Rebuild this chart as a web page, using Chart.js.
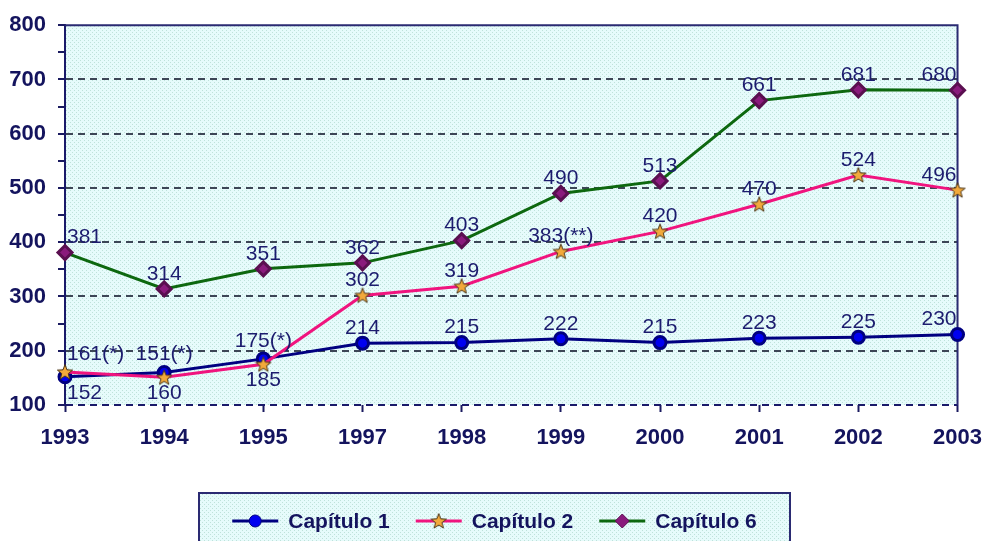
<!DOCTYPE html>
<html lang="es">
<head>
<meta charset="UTF-8">
<title>Capítulos 1993-2003</title>
<script src="https://cdn.jsdelivr.net/npm/chart.js@4"></script>
<style>
    html, body { margin: 0; padding: 0; background: #fff; }
    #wrap { width: 995px; height: 541px; }
</style>
</head>
<body>
<div id="wrap"><canvas id="chart" width="995" height="541"></canvas></div>
<script>
// data
const years = ['1993', '1994', '1995', '1997', '1998', '1999', '2000', '2001', '2002', '2003'];
const cap1 = [152, 160, 185, 214, 215, 222, 215, 223, 225, 230];
const cap2 = [161, 151, 175, 302, 319, 383, 420, 470, 524, 496];
const cap6 = [381, 314, 351, 362, 403, 490, 513, 661, 681, 680];
const cap1Labels = ['152', '160', '185', '214', '215', '222', '215', '223', '225', '230'];
const cap2Labels = ['161(*)', '151(*)', '175(*)', '302', '319', '383(**)', '420', '470', '524', '496'];
const cap6Labels = ['381', '314', '351', '362', '403', '490', '513', '661', '681', '680'];
const yMin = 100, yMax = 800;

const FONT = '"Liberation Sans", Arial, sans-serif';
const NAVY = '#14145e';

function dotPattern(ctx) {
    const c = document.createElement('canvas');
    c.width = 4; c.height = 4;
    const g = c.getContext('2d');
    g.fillStyle = '#e6fbfb';
    g.fillRect(0, 0, 4, 4);
    g.fillStyle = '#bfe2da';
    g.fillRect(0, 0, 1, 1);
    g.fillRect(2, 2, 1, 1);
    return ctx.createPattern(c, 'repeat');
}

function starImage() {
    const c = document.createElement('canvas');
    c.width = 18; c.height = 18;
    const g = c.getContext('2d');
    g.beginPath();
    for (let k = 0; k < 10; k++) {
        const r = k % 2 ? 3.4 : 8;
        const a = -Math.PI / 2 + k * Math.PI / 5;
        g.lineTo(9 + r * Math.cos(a), 9.6 + r * Math.sin(a));
    }
    g.closePath();
    g.fillStyle = '#f2a93b';
    g.fill();
    g.strokeStyle = '#4a3518';
    g.lineWidth = 1;
    g.stroke();
    return c;
}
const star = starImage();

const decor = {
    id: 'decor',
    beforeDraw(chart) {
        const { ctx, chartArea: a } = chart;
        ctx.save();
        ctx.fillStyle = dotPattern(ctx);
        ctx.fillRect(a.left, a.top, a.right - a.left, a.bottom - a.top);
        ctx.restore();
    },
    beforeDatasetsDraw(chart) {
        const { ctx, chartArea: a } = chart;
        ctx.save();
        ctx.strokeStyle = '#2a2a72';
        ctx.lineWidth = 2;
        ctx.beginPath();
        ctx.moveTo(a.left, a.top);
        ctx.lineTo(a.right, a.top);
        ctx.lineTo(a.right, a.bottom);
        ctx.stroke();
        ctx.restore();
    },
    afterDatasetsDraw(chart) {
        // value labels, nudged clear of a neighbouring marker at the same year
        const { ctx, chartArea: a } = chart;
        const metas = chart.data.datasets.map((ds, di) => chart.getDatasetMeta(di));
        ctx.save();
        ctx.font = '21px ' + FONT;
        ctx.fillStyle = '#1c1c6e';
        ctx.textBaseline = 'middle';
        ctx.textAlign = 'left';
        chart.data.datasets.forEach((ds, di) => {
            metas[di].data.forEach((pt, i) => {
                const text = ds.valueLabels[i];
                const w = ctx.measureText(text).width;
                let x = pt.x - w / 2;
                x = Math.max(a.left + 2, Math.min(x, a.right - w - 1));
                const near = metas.map(m => m.data[i].y).filter(y => Math.abs(y - pt.y) < 14);
                const crowded = near.length > 1;
                const below = i < (ds.labelsBelow || 0);
                const y = below ? Math.max(...near) + 16
                                : Math.min(...near) - (crowded ? 18 : 15);
                ctx.fillText(text, x, y);
            });
        });
        ctx.restore();
    },
    afterDraw(chart) {
        // legend box
        const { ctx } = chart;
        const box = { left: 199, top: 493, right: 790, bottom: 550 };
        const midY = 521;
        ctx.save();
        ctx.fillStyle = dotPattern(ctx);
        ctx.fillRect(box.left, box.top, box.right - box.left, box.bottom - box.top);
        ctx.strokeStyle = '#2a2a72';
        ctx.lineWidth = 2;
        ctx.strokeRect(box.left, box.top, box.right - box.left, box.bottom - box.top);

        ctx.font = 'bold 21px ' + FONT;
        ctx.textBaseline = 'middle';
        const lineLen = 46, gapText = 10, gapItem = 26;
        const items = [0, 1, 2].map(i => {
            const ds = chart.data.datasets[i];
            return { ds, w: ctx.measureText(ds.label).width };
        });
        const total = items.reduce((s, it) => s + lineLen + gapText + it.w, 0) + gapItem * 2;
        let x = (box.left + box.right) / 2 - total / 2;
        items.forEach(it => {
            const ds = it.ds;
            ctx.strokeStyle = ds.borderColor;
            ctx.lineWidth = 3;
            ctx.beginPath();
            ctx.moveTo(x, midY);
            ctx.lineTo(x + lineLen, midY);
            ctx.stroke();
            ctx.fillStyle = ds.pointBackgroundColor;
            ctx.strokeStyle = ds.pointBorderColor;
            ctx.lineWidth = 1;
            Chart.helpers.drawPoint(ctx, {
                pointStyle: ds.pointStyle, radius: ds.pointRadius, rotation: 0, borderWidth: 1
            }, x + lineLen / 2, midY);
            ctx.fillStyle = NAVY;
            ctx.fillText(ds.label, x + lineLen + gapText, midY + 1);
            x += lineLen + gapText + it.w + gapItem;
        });
        ctx.restore();
    }
};

new Chart(document.getElementById('chart'), {
    type: 'line',
    data: {
        labels: years,
        datasets: [
            {
                label: 'Capítulo 1', data: cap1, valueLabels: cap1Labels, labelsBelow: 3,
                borderColor: '#000080', backgroundColor: '#0000f0',
                pointBackgroundColor: '#0000f0', pointBorderColor: '#000080',
                pointStyle: 'circle', pointRadius: 6, borderWidth: 3, order: 3
            },
            {
                label: 'Capítulo 2', data: cap2, valueLabels: cap2Labels,
                borderColor: '#f0147e', backgroundColor: '#f2a93b',
                pointBackgroundColor: '#f2a93b', pointBorderColor: '#4a3518',
                pointStyle: star, pointRadius: 8, borderWidth: 3, order: 2
            },
            {
                label: 'Capítulo 6', data: cap6, valueLabels: cap6Labels,
                borderColor: '#0d680f', backgroundColor: '#8a1a7c',
                pointBackgroundColor: '#8a1a7c', pointBorderColor: '#5a0f50',
                pointStyle: 'rectRot', pointRadius: 7, borderWidth: 3, order: 1
            }
        ]
    },
    options: {
        responsive: false,
        animation: false,
        devicePixelRatio: 1,
        layout: { padding: { top: 21, right: 36, bottom: 86, left: 0 } },
        plugins: { legend: { display: false }, tooltip: { enabled: false } },
        elements: { line: { tension: 0 } },
        scales: {
            x: {
                offset: false,
                border: { display: false },
                grid: { drawOnChartArea: false, drawTicks: true, tickLength: 7, tickColor: '#1a1a60', tickWidth: 2 },
                ticks: { color: NAVY, font: { family: FONT, size: 22, weight: 'bold' }, padding: 13, maxRotation: 0, autoSkip: false },
                afterFit(s) { s.height = 50; }
            },
            y: {
                min: yMin, max: yMax,
                border: { display: true, color: '#1a1a6a', width: 2, dash: [7, 5] },
                grid: {
                    lineWidth: 2,
                    tickLength: 7,
                    tickWidth: 2,
                    tickColor: '#1a1a60',
                    color: c => {
                        const v = c.tick ? c.tick.value : 0;
                        if (v === yMin) return '#1a1a6a';
                        if (v % 100 === 0 && v < yMax) return '#3c4656';
                        return 'transparent';
                    }
                },
                ticks: {
                    stepSize: 50, autoSkip: false, padding: 12,
                    color: NAVY, font: { family: FONT, size: 22, weight: 'bold' },
                    callback: v => v % 100 === 0 ? v : ''
                },
                afterFit(s) { s.width = 65; }
            }
        }
    },
    plugins: [decor]
});
</script>
</body>
</html>
